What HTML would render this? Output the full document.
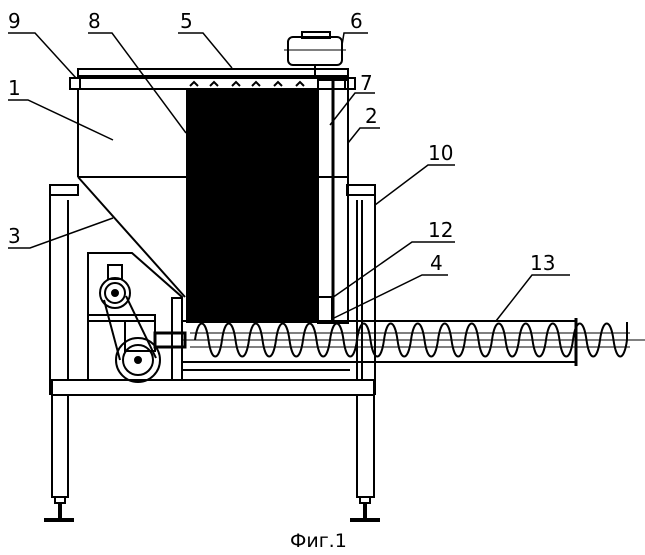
<!DOCTYPE html>
<html><head><style>
html,body{margin:0;padding:0;background:#fff;}
svg{display:block;}
text{font-family:"DejaVu Sans","Liberation Sans",sans-serif;font-size:20px;fill:#000;}
</style></head><body>
<svg width="645" height="555" viewBox="0 0 645 555" xmlns="http://www.w3.org/2000/svg" fill="none" stroke="#000" stroke-width="2">
<rect x="78" y="69" width="270" height="7"/>
<rect x="70" y="78" width="10" height="11"/>
<rect x="345" y="78" width="10" height="11"/>
<line x1="78" y1="78" x2="348" y2="78"/>
<line x1="78" y1="89" x2="348" y2="89"/>
<rect x="288" y="37" width="54" height="28" rx="5"/>
<rect x="302" y="32" width="28" height="6"/>
<line x1="284" y1="50" x2="346" y2="50" stroke-width="1"/>
<line x1="315" y1="65" x2="315" y2="76"/>
<line x1="78" y1="89" x2="78" y2="177"/>
<line x1="78" y1="177" x2="186" y2="177"/>
<line x1="78" y1="177" x2="185" y2="297"/>
<rect x="186" y="88" width="132" height="235" fill="#000" stroke="none"/>
<path d="M190 86 l4 -4 4 4 M210 86 l4 -4 4 4 M232 86 l4 -4 4 4 M252 86 l4 -4 4 4 M274 86 l4 -4 4 4 M296 86 l4 -4 4 4" stroke-width="2"/>
<rect x="318" y="80" width="30" height="243"/>
<line x1="333" y1="80" x2="333" y2="323" stroke-width="3"/>
<line x1="318" y1="177" x2="348" y2="177"/>
<rect x="318" y="297" width="14" height="25"/>
<rect x="50" y="185" width="28" height="10"/>
<line x1="55" y1="195" x2="78" y2="195"/>
<rect x="347" y="185" width="28" height="10"/>
<line x1="50" y1="185" x2="50" y2="395"/>
<line x1="68" y1="200" x2="68" y2="380"/>
<line x1="375" y1="185" x2="375" y2="395"/>
<line x1="357" y1="200" x2="357" y2="380"/>
<line x1="362" y1="200" x2="362" y2="380"/>
<rect x="52" y="380" width="322" height="15"/>
<rect x="52" y="395" width="16" height="102"/>
<rect x="357" y="395" width="17" height="102"/>
<rect x="55" y="497" width="10" height="6"/>
<line x1="60" y1="503" x2="60" y2="518" stroke-width="4"/>
<line x1="44" y1="520" x2="74" y2="520" stroke-width="4"/>
<rect x="360" y="497" width="10" height="6"/>
<line x1="365" y1="503" x2="365" y2="518" stroke-width="4"/>
<line x1="350" y1="520" x2="380" y2="520" stroke-width="4"/>
<path d="M88 380 V253 H132 L182 297 V380"/>
<rect x="172" y="298" width="10" height="82"/>
<rect x="88" y="315" width="67" height="6"/>
<rect x="125" y="321" width="30" height="30"/>
<circle cx="115" cy="293" r="15"/>
<circle cx="115" cy="293" r="10"/>
<circle cx="115" cy="293" r="3" fill="#000"/>
<rect x="108" y="265" width="14" height="14"/>
<circle cx="138" cy="360" r="22"/>
<circle cx="138" cy="360" r="15"/>
<circle cx="138" cy="360" r="3" fill="#000"/>
<line x1="104" y1="300" x2="120" y2="360"/>
<line x1="126" y1="296" x2="156" y2="358"/>
<rect x="155" y="333" width="30" height="14" stroke-width="3"/>
<line x1="182" y1="321" x2="576" y2="321"/>
<line x1="182" y1="362" x2="576" y2="362"/>
<line x1="182" y1="370" x2="350" y2="370"/>
<line x1="576" y1="318" x2="576" y2="366" stroke-width="3"/>
<line x1="182" y1="340" x2="645" y2="340" stroke-width="1"/>
<line x1="190" y1="333" x2="630" y2="333" stroke-width="1"/>
<line x1="190" y1="347" x2="630" y2="347" stroke-width="1"/>
<path d="M195 340 c3 -22 10.5 -22 13.5 0 c3 22 10.5 22 13.5 0 c3 -22 10.5 -22 13.5 0 c3 22 10.5 22 13.5 0 c3 -22 10.5 -22 13.5 0 c3 22 10.5 22 13.5 0 c3 -22 10.5 -22 13.5 0 c3 22 10.5 22 13.5 0 c3 -22 10.5 -22 13.5 0 c3 22 10.5 22 13.5 0 c3 -22 10.5 -22 13.5 0 c3 22 10.5 22 13.5 0 c3 -22 10.5 -22 13.5 0 c3 22 10.5 22 13.5 0 c3 -22 10.5 -22 13.5 0 c3 22 10.5 22 13.5 0 c3 -22 10.5 -22 13.5 0 c3 22 10.5 22 13.5 0 c3 -22 10.5 -22 13.5 0 c3 22 10.5 22 13.5 0 c3 -22 10.5 -22 13.5 0 c3 22 10.5 22 13.5 0 c3 -22 10.5 -22 13.5 0 c3 22 10.5 22 13.5 0 c3 -22 10.5 -22 13.5 0 c3 22 10.5 22 13.5 0 c3 -22 10.5 -22 13.5 0 c3 22 10.5 22 13.5 0 c3 -22 10.5 -22 13.5 0 c3 22 10.5 22 13.5 0 c3 -22 10.5 -22 13.5 0 c3 22 10.5 22 13.5 0 V322" stroke-width="2"/>
<g stroke-width="1.5">
<path d="M8 33 H35 L76 78"/>
<path d="M88 33 H112 L186 133"/>
<path d="M178 33 H203 L232 68"/>
<path d="M368 33 H344 L342 45"/>
<path d="M8 100 H28 L113 140"/>
<path d="M375 93 H355 L330 125"/>
<path d="M380 128 H360 L348 143"/>
<path d="M455 165 H428 L375 205"/>
<path d="M8 248 H30 L113 218"/>
<path d="M455 242 H412 L332 298"/>
<path d="M448 275 H422 L334 318"/>
<path d="M570 275 H532 L496 321"/>
</g>
<g stroke="none">
<text x="8" y="28">9</text>
<text x="88" y="28">8</text>
<text x="180" y="28">5</text>
<text x="350" y="28">6</text>
<text x="8" y="95">1</text>
<text x="360" y="90">7</text>
<text x="365" y="123">2</text>
<text x="428" y="160">10</text>
<text x="8" y="243">3</text>
<text x="428" y="237">12</text>
<text x="430" y="270">4</text>
<text x="530" y="270">13</text>
<text x="290" y="547" style="font-size:19px">Фиг.1</text>
</g>
</svg>
</body></html>
